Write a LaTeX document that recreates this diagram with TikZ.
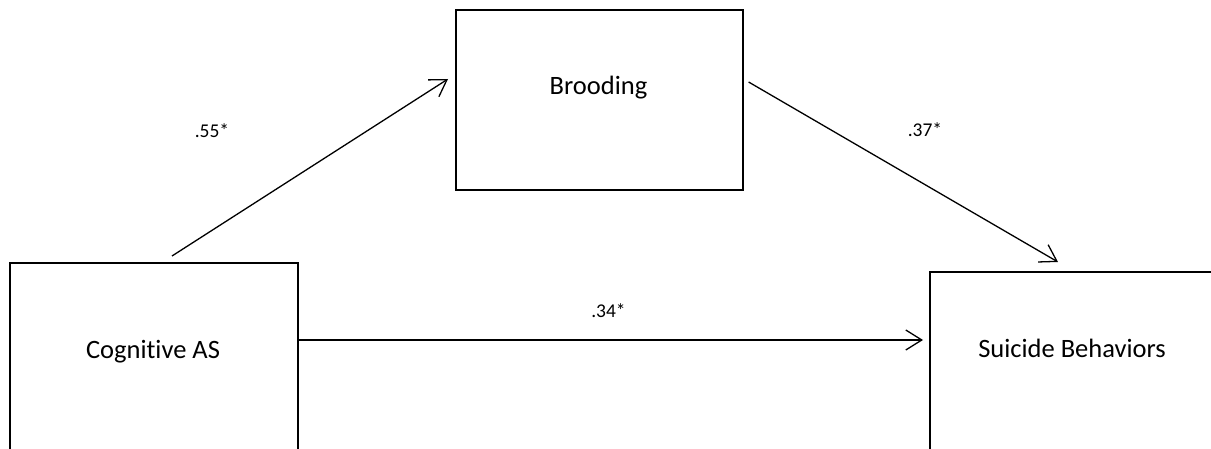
\documentclass[tikz,border=0pt]{standalone}
\usepackage{fontspec}
\setmainfont[Ligatures=NoCommon]{Carlito}
\usetikzlibrary{arrows.meta,calc}
\begin{document}
\begin{tikzpicture}[x=1pt,y=-1pt,
  box/.style={draw=black, line width=1.6pt, rectangle, inner sep=0pt, anchor=north west},
  boxtext/.style={font=\fontsize{26.5}{30}\selectfont, inner sep=0pt, anchor=base},
  coef/.style={font=\fontsize{19.5}{23}\selectfont, inner sep=0pt, anchor=base},
  effect/.style={line width=1.3pt, -{Straight Barb[length=16pt,width=20pt,line width=1.3pt]}}]
\clip (0,0) rectangle (1211,449);
% the three variables of the mediation model
\node[box, minimum width=288pt, minimum height=220pt] (cog) at (9,262) {};
\node[box, minimum width=287pt, minimum height=180pt] (brood) at (455,9) {};
\node[box, minimum width=300pt, minimum height=220pt] (suic) at (929,271) {};
\node[boxtext] (cogtxt) at (153,358) {Cognitive AS};
\node[boxtext] (broodtxt) at (598.5,95) {Brooding};
\node[boxtext] (suictxt) at (1072,357) {Suicide Behaviors};
% arrow end points, just off the box borders
\coordinate (a1s) at ($(cog.north west)+(163,-6)$);
\coordinate (a1e) at ($(brood.north west)+(-7,70)$);
\coordinate (a2s) at ($(brood.north east)+(5,73)$);
\coordinate (a2e) at ($(suic.north west)+(129,-9)$);
\coordinate (a3s) at ($(cog.north east)+(0,78)$);
\coordinate (a3e) at ($(suic.north west)+(-6,69)$);
% paths
\draw[effect] (a1s) -- (a1e);
\draw[effect] (a2s) -- (a2e);
\draw[effect] (a3s) -- (a3e);
% path coefficients
\node[coef] (c1) at (212,138) {.55*};
\node[coef] (c2) at (925,137) {.37*};
\node[coef] (c3) at (608.5,317) {.34*};
\end{tikzpicture}
\end{document}
